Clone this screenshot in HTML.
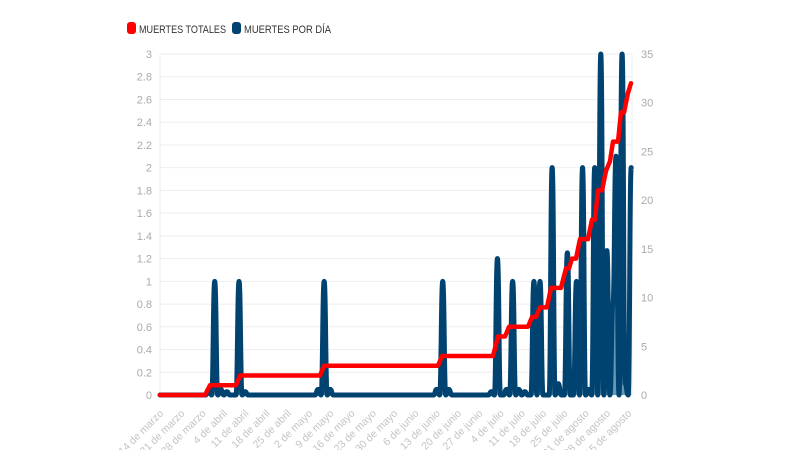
<!DOCTYPE html>
<html><head><meta charset="utf-8"><style>
body{margin:0;background:#fff;width:800px;height:450px;overflow:hidden;font-family:"Liberation Sans",sans-serif}
</style></head><body>
<svg id="s" width="800" height="450" xmlns="http://www.w3.org/2000/svg" font-family="Liberation Sans, sans-serif">
<rect x="127" y="22" width="9" height="12" rx="3" fill="#f00"/>
<text x="139" y="33" font-size="11" fill="#333" textLength="87" lengthAdjust="spacingAndGlyphs">MUERTES TOTALES</text>
<rect x="232" y="22" width="9" height="12" rx="3" fill="#004270"/>
<text x="244" y="33" font-size="11" fill="#333" textLength="87" lengthAdjust="spacingAndGlyphs">MUERTES POR DÍA</text>
<g id="g"></g>
</svg>
<script>
var g=document.getElementById('g'),h='';
var X0=160,DX=3.04,Y0=395,TOP=54,H=Y0-TOP;
for(var i=0;i<=15;i++){var y=Y0-i*H/15;h+='<line x1="160" x2="632" y1="'+y+'" y2="'+y+'" stroke="#eee"/>';
var v=(i*0.2).toFixed(1).replace(/\.0$/,'');h+='<text x="152" y="'+(y+4)+'" font-size="11" fill="#aaa" text-anchor="end">'+v+'</text>';}
for(var i=0;i<=7;i++){var y=Y0-i*H/7;h+='<text x="641" y="'+(y+4)+'" font-size="11" fill="#aaa">'+(i*5)+'</text>';}
h+='<line x1="160" x2="160" y1="54" y2="395" stroke="#eee"/><line x1="632" x2="632" y1="54" y2="395" stroke="#eee"/>';
var labs=["14 de marzo","21 de marzo","28 de marzo","4 de abril","11 de abril","18 de abril","25 de abril","2 de mayo","9 de mayo","16 de mayo","23 de mayo","30 de mayo","6 de junio","13 de junio","20 de junio","27 de junio","4 de julio","11 de julio","18 de julio","25 de julio","01 de agosto","08 de agosto","15 de agosto"];
labs.forEach(function(l,k){var x=X0+k*7*DX+4,y=414;h+='<text x="'+x+'" y="'+y+'" font-size="10.5" fill="#c4c4c4" text-anchor="end" transform="rotate(-45 '+x+' '+y+')">'+l+'</text>';});
var vals=[];for(var d=0;d<=155;d++)vals[d]=0;
var pk={16:0.05,18:1,20:0.05,22:0.03,26:1,28:0.03,52:0.05,54:1,56:0.05,91:0.05,93:1,95:0.05,109:0.03,111:1.2,114:0.05,116:1,118:0.05,120:0.03,123:1,125:1,129:2,131:0.1,134:1.25,137:1,139:2,141:0.05,143:2,145:3,147:1.27,149:0.8,150:2.1,152:3,153:0.1,155:2};
for(var k in pk)vals[+k]=pk[k];
var pts=vals.map(function(v,d){return [X0+d*DX,Y0-v/3*H]});
function sm(p){var s='M'+p[0][0]+','+p[0][1];for(var i=0;i<p.length-1;i++){var b=p[i],c=p[i+1],m=(b[0]+c[0])/2;
s+=' C'+m+','+b[1]+' '+m+','+c[1]+' '+c[0]+','+c[1];}return s;}
var bp=sm(pts);
h+='<path d="'+bp+' L'+pts[pts.length-1][0]+','+Y0+' L'+X0+','+Y0+'Z" fill="#3f7fa0" fill-opacity="0.8"/>';
h+='<path d="'+bp+'" fill="none" stroke="#004270" stroke-width="5" stroke-linejoin="round" stroke-linecap="round"/>';
var rs=[[160,0],[205,0],[210,1],[236,1],[240,2],[320,2],[324,3],[438,3],[442,4],[493,4],[498,6],[505,6],[509,7],[528,7],[532,8],[536,8],[540,9],[547,9],[551,11],[561,11],[566,13],[569,13],[572,14],[576,14],[580,16],[588,16],[592,18],[595,18],[598,21],[602,21],[606,23],[610,24],[613,26],[618,26],[621,29],[624,29],[628,31],[631,32]];
var rp=rs.map(function(p,i){return (i?'L':'M')+p[0]+','+(Y0-p[1]/35*H)}).join(' ');
h+='<path d="'+rp+'" fill="none" stroke="#f00" stroke-width="4.5" stroke-linejoin="round" stroke-linecap="round"/>';
g.innerHTML=h;
</script>
</body></html>
